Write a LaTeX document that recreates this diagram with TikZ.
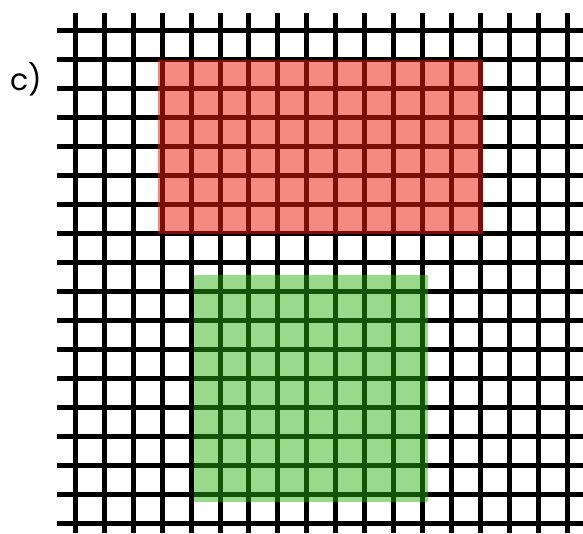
\documentclass[tikz,border=0pt]{standalone}
\usepackage{fontspec}
\setmainfont{Poppins}
\definecolor{redfill}{RGB}{235,30,15}
\definecolor{greenfill}{RGB}{40,175,15}
\begin{document}
\begin{tikzpicture}[x=1pt,y=-1pt,
  gridline/.style={line width=5pt, black},
  redbox/.style={fill=redfill, fill opacity=0.52},
  greenbox/.style={fill=greenfill, fill opacity=0.48},
  tag/.style={font=\fontsize{30}{34}\selectfont, inner sep=0pt}]
\useasboundingbox (0,0) rectangle (583,533);
\foreach \k in {0,...,17} {
  \draw[gridline] (57.3, {30.7+28.97*\k}) -- (583, {30.7+28.97*\k});
  \draw[gridline] ({75.3+28.94*\k}, 13.3) -- ({75.3+28.94*\k}, 533);
}
\fill[redbox] (158,60) rectangle (483.3,234.3);
\fill[greenbox] (194,275) rectangle (427.7,502.3);
\node[tag] (lbl) at (26,79) {c)};
\end{tikzpicture}
\end{document}
